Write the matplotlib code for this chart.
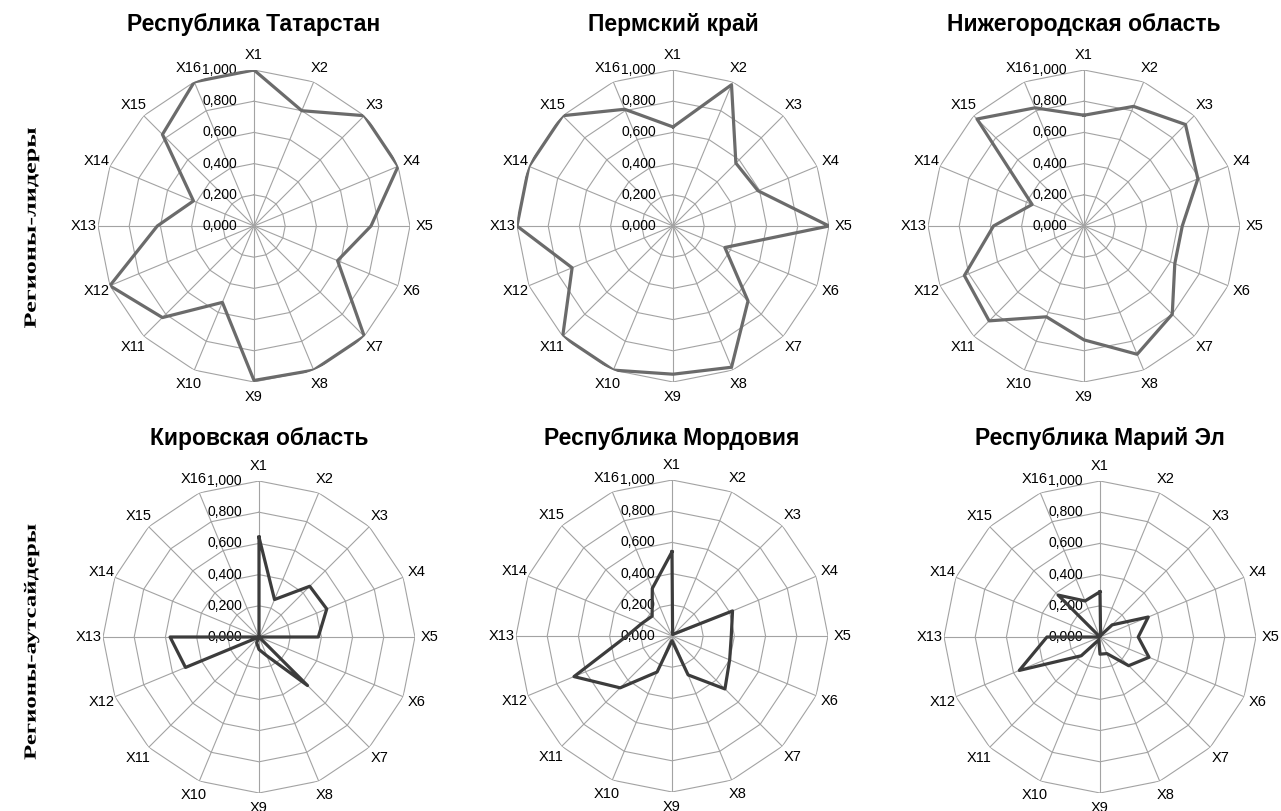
import matplotlib
matplotlib.use("Agg")
import matplotlib.pyplot as plt
import numpy as np
from matplotlib.textpath import TextPath
from matplotlib.patches import PathPatch
from matplotlib.font_manager import FontProperties
from matplotlib.transforms import Affine2D

labels = ["X" + str(i) for i in range(1, 17)]
rings = [0.2, 0.4, 0.6, 0.8, 1.0]
ring_labels = ["0,000", "0,200", "0,400", "0,600", "0,800", "1,000"]

titles = ["Республика Татарстан", "Пермский край", "Нижегородская область",
          "Кировская область", "Республика Мордовия", "Республика Марий Эл"]

tatarstan = [1.0, 0.80, 1.0, 1.0, 0.75, 0.58, 1.0, 1.0, 0.99, 0.53, 0.83, 1.0, 0.62, 0.42, 0.83, 1.0]
perm = [0.635, 0.98, 0.57, 0.59, 1.0, 0.36, 0.68, 0.98, 0.95, 1.0, 1.0, 0.70, 1.0, 1.0, 1.0, 0.81]
nizhny = [0.71, 0.83, 0.92, 0.79, 0.63, 0.63, 0.80, 0.89, 0.73, 0.63, 0.86, 0.83, 0.58, 0.36, 0.97, 0.82]
kirov = [0.64, 0.26, 0.46, 0.47, 0.38, 0.0, 0.44, 0.13, 0.08, 0.04, 0.0, 0.51, 0.57, 0.0, 0.0, 0.0]
mordovia = [0.54, 0.01, 0.02, 0.42, 0.38, 0.40, 0.48, 0.27, 0.03, 0.25, 0.47, 0.68, 0.29, 0.21, 0.18, 0.33]
mariel = [0.29, 0.01, 0.11, 0.335, 0.245, 0.34, 0.26, 0.115, 0.11, 0.02, 0.17, 0.56, 0.34, 0.0, 0.38, 0.25]

series = [tatarstan, perm, nizhny, kirov, mordovia, mariel]
line_colors = ["#6b6b6b"] * 3 + ["#3c3c3c"] * 3

# chart centres in pixels (x, y from top)
centers = [(254, 226), (673, 226), (1084, 226), (259, 637), (672, 636), (1100, 637)]
R = 156
W, H = 1281, 811

plt.rcParams["font.family"] = ["Liberation Sans", "DejaVu Sans"]
fig = plt.figure(figsize=(W / 100, H / 100), dpi=100)

theta = np.linspace(0, 2 * np.pi, 16, endpoint=False)
theta_c = np.append(theta, theta[0])

for i in range(6):
    cx, cy = centers[i]
    ax = fig.add_axes([(cx - R) / W, (H - cy - R) / H, 2 * R / W, 2 * R / H], projection="polar")
    ax.set_theta_zero_location("N")
    ax.set_theta_direction(-1)
    ax.set_ylim(0, 1)
    ax.grid(False)
    ax.spines["polar"].set_visible(False)
    ax.set_yticks([])
    ax.set_xticks(theta)
    ax.set_xticklabels(labels, fontsize=10.5)
    ax.tick_params(axis="x", pad=0)

    for r in rings:
        ax.plot(theta_c, [r] * 17, color="#a3a3a3", lw=0.8, zorder=1)
    for t in theta:
        ax.plot([t, t], [0, 1], color="#a3a3a3", lw=0.8, zorder=1)

    for r, lbl in zip([0.0] + rings, ring_labels):
        ax.annotate(lbl, xy=(0, r), xytext=(-17, 0), textcoords="offset pixels",
                    ha="right", va="center", fontsize=10, zorder=2)

    vals = series[i] + [series[i][0]]
    ax.plot(theta_c, vals, color=line_colors[i], lw=2.3, zorder=3)

    title_y = 25 if i < 3 else 438
    fig.text(cx / W, 1 - title_y / H, titles[i], ha="center", va="center",
             fontsize=16.5, fontweight="bold")

# condensed vertical row labels
prop = FontProperties(family="Liberation Serif", weight="bold")
row_labels = [("Регионы-лидеры", 228, 200), ("Регионы-аутсайдеры", 642, 235)]
for text, yc, length in row_labels:
    tp = TextPath((0, 0), text, size=1, prop=prop)
    ext = tp.get_extents()
    sx = length / ext.width
    sy = 17.0
    tr = (Affine2D().translate(-ext.x0 - ext.width / 2, -0.33)
          .scale(sx, sy).rotate_deg(90).translate(30, H - yc))
    patch = PathPatch(tr.transform_path(tp), facecolor="black", edgecolor="none")
    patch.set_transform(matplotlib.transforms.IdentityTransform())
    fig.add_artist(patch)

fig.savefig("out.png", dpi=100)
